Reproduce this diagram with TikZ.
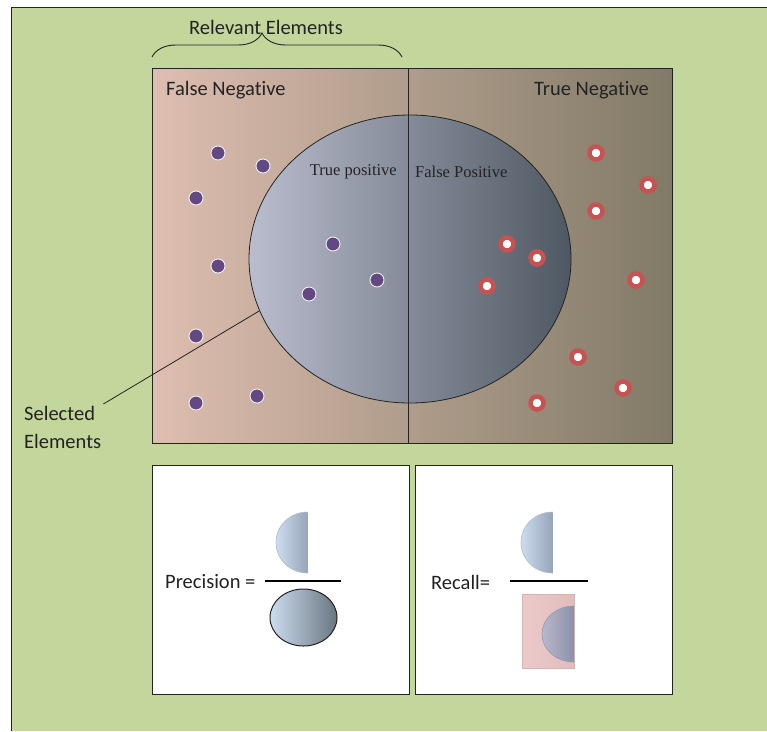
\documentclass[tikz,border=0pt]{standalone}
\usepackage{fontspec}
\setmainfont{Carlito}[RawFeature={-liga;-clig;-dlig}]
\newfontfamily\timesfont{Liberation Serif}
\usepackage{xcolor}
\usetikzlibrary{shapes.geometric, decorations.pathreplacing, positioning}

\definecolor{leafbg}{RGB}{195,214,155}
\definecolor{inkgray}{RGB}{35,35,35}
\definecolor{fnpink}{RGB}{222,190,176}
\definecolor{tnkhaki}{RGB}{128,122,102}
\definecolor{selleft}{RGB}{186,189,206}
\definecolor{selright}{RGB}{78,88,98}
\definecolor{dotpurple}{RGB}{100,72,132}
\definecolor{dotred}{RGB}{200,82,82}
\definecolor{paleblue}{RGB}{205,220,238}

\begin{document}
\begin{tikzpicture}[x=1pt, y=-1pt,
  txt/.style={font=\fontsize{20.5}{24}\selectfont, text=inkgray, inner sep=0pt},
  tms/.style={font=\timesfont\fontsize{16.5}{19}\selectfont, text=inkgray, inner sep=0pt},
  panel/.style={draw=inkgray, fill=white, line width=1pt, minimum width=257pt, minimum height=229pt, inner sep=0pt},
  dotin/.style={circle, fill=dotpurple, draw=white, line width=0.8pt, minimum size=14pt, inner sep=0pt},
  dotout/.style={circle, fill=white, draw=dotred, line width=4.5pt, minimum size=13pt, inner sep=0pt},
  frac/.style={line width=1.2pt, black}
]
  \useasboundingbox (0,0) rectangle (767,731);
  \fill[leafbg] (11,7) rectangle (767,731);
  \draw[inkgray, line width=1pt] (11,731) -- (11,7) -- (767,7);

  % confusion area
  \node[draw=inkgray, line width=1pt, left color=fnpink, right color=tnkhaki,
        minimum width=520pt, minimum height=375pt, inner sep=0pt] (conf) at (412,255.5) {};
  \node[ellipse, draw=inkgray, line width=0.8pt, left color=selleft, right color=selright,
        minimum width=322pt, minimum height=288pt, inner sep=0pt] (sel) at (410,259) {};
  \draw[inkgray, line width=1pt] (408,68) -- (408,443);

  \node[txt, anchor=west] (fneg) at (166,90) {False Negative};
  \node[txt, anchor=east] (tneg) at (649,90) {True Negative};
  \node[tms, anchor=east] (tpos) at (397,172) {True positive};
  \node[tms, anchor=west] (fpos) at (415,172) {False Positive};

  \foreach \px/\py [count=\i] in {218/153, 263/166, 196/198, 218/266, 333/244, 309/294, 377/280, 196/336, 196/403, 257/396}
    \node[dotin] (in\i) at (\px,\py) {};
  \foreach \px/\py [count=\i] in {596/153, 648/185, 596/211, 507/244, 537/258, 487/286, 636/280, 578/357, 623/388, 537/403}
    \node[dotout] (out\i) at (\px,\py) {};

  % relevant brace
  \node[txt] (rel) at (266,27) {Relevant Elements};
  \draw[inkgray, line width=0.9pt, decorate, decoration={brace, amplitude=24pt, aspect=0.44}] (152,57) -- (402,57);

  % selected label
  \node[txt, align=left, anchor=north west, inner sep=2pt, font=\fontsize{20.5}{28}\selectfont] (selel) at (22,404) {Selected\\Elements};
  \draw[inkgray, line width=0.8pt] (selel.north east) -- (sel.199);

  % precision
  \node[panel] (precbox) at (280.5,579.5) {};
  \node[txt, anchor=west] (prec) at (165,582) {Precision =};
  \draw[frac] (265,581) -- (341,581);
  \begin{scope}
    \clip (270,505) rectangle (307.5,580);
    \shadedraw[draw={rgb,255:red,175;green,188;blue,205}, line width=0.6pt, left color=paleblue, right color={rgb,255:red,95;green,110;blue,132}]
      (307.5,542.5) ellipse[x radius=31.5, y radius=30.5];
  \end{scope}
  \node[ellipse, draw=inkgray, line width=1pt, left color=paleblue, right color={rgb,255:red,105;green,118;blue,130},
        minimum width=67pt, minimum height=57pt, inner sep=0pt] (pden) at (303.5,617.5) {};

  % recall
  \node[panel] (recbox) at (543.5,579.5) {};
  \node[txt, anchor=west] (rec) at (431,582) {Recall=};
  \draw[frac] (510,581) -- (588,581);
  \begin{scope}
    \clip (510,505) rectangle (552.5,580);
    \shadedraw[draw={rgb,255:red,175;green,188;blue,205}, line width=0.6pt, left color=paleblue, right color={rgb,255:red,95;green,110;blue,132}]
      (552.5,542.5) ellipse[x radius=31.5, y radius=30.5];
  \end{scope}
  \node[draw={rgb,255:red,215;green,180;blue,180}, line width=0.6pt, left color={rgb,255:red,236;green,202;blue,202}, right color={rgb,255:red,226;green,188;blue,188},
        minimum width=52pt, minimum height=74pt, inner sep=0pt] (rden) at (548,631) {};
  \begin{scope}
    \clip (530,590) rectangle (574,670);
    \shadedraw[draw={rgb,255:red,150;green,150;blue,175}, line width=0.6pt, left color={rgb,255:red,184;green,184;blue,204}, right color={rgb,255:red,96;green,104;blue,136}]
      (574,634) ellipse[x radius=32, y radius=28];
  \end{scope}
\end{tikzpicture}
\end{document}
